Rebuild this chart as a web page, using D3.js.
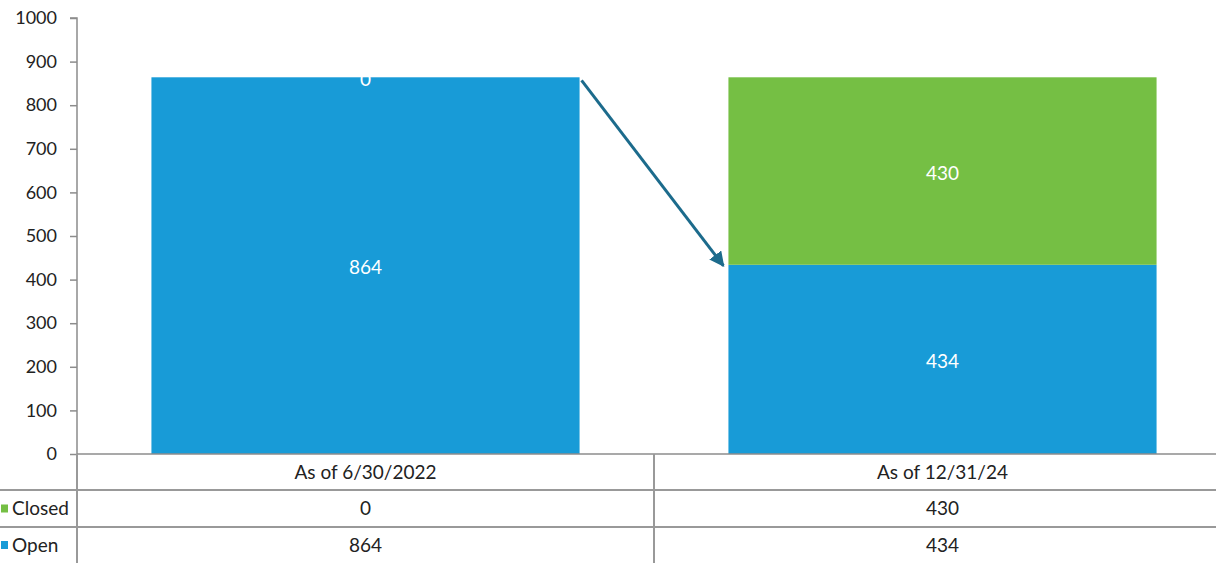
<!DOCTYPE html>
<html><head><meta charset="utf-8">
<script src="https://cdn.jsdelivr.net/npm/d3@7"></script>
<style>body{margin:0;background:#fff}svg{display:block}text{font-family:Lato,"Open Sans",sans-serif;fill:#222}</style>
</head><body><svg id="c" width="1216" height="563"></svg>
<script>
const categories = ["As of 6/30/2022", "As of 12/31/24"];
const seriesNames = ["Open", "Closed"];
const openValues = [864, 434];
const closedValues = [0, 430];
const yTicks = [0,100,200,300,400,500,600,700,800,900,1000];
const colors = {Open:"#189BD7", Closed:"#75BF44"};

const svg = d3.select("#c");
const x0 = 77, y0 = 454;
const x = d3.scaleBand().domain(categories).range([x0, x0+2*577]).paddingInner(0).paddingOuter(0);
const y = d3.scaleLinear().domain([0,1000]).range([y0, 18]);
const barW = x.bandwidth()*0.742;

const rows = categories.map((c,i)=>({cat:c, Open:openValues[i], Closed:closedValues[i]}));
const stacked = d3.stack().keys(seriesNames)(rows);

const g = svg.append("g");
stacked.forEach(s=>{
  g.selectAll(null).data(s).enter().append("rect")
    .attr("x", d=>x(d.data.cat)+(x.bandwidth()-barW)/2)
    .attr("width", barW)
    .attr("y", d=>y(d[1]))
    .attr("height", d=>y(d[0])-y(d[1]))
    .attr("fill", colors[s.key]);
});
stacked.forEach(s=>{
  g.selectAll(null).data(s).enter().append("text")
    .attr("x", d=>x(d.data.cat)+x.bandwidth()/2)
    .attr("y", d=>(y(d[0])+y(d[1]))/2+2)
    .attr("dy","0.35em").attr("text-anchor","middle")
    .style("fill","#fff").style("font-size","19px")
    .text(d=>d[1]-d[0]);
});

// axis
const ax = svg.append("g").attr("transform",`translate(${x0},0)`)
  .call(d3.axisLeft(y).tickValues(yTicks).tickSize(7).tickPadding(13).tickFormat(d3.format("d")));
ax.select(".domain").attr("stroke","#8c8c8c").attr("stroke-width",1.5).attr("d",`M-7,${y(1000)}H0V${y0}`);
ax.selectAll(".tick line").attr("stroke","#8c8c8c").attr("stroke-width",1.5);
ax.selectAll(".tick text").style("font-size","18px").style("fill","#222").style("font-family","Lato,'Open Sans',sans-serif");

// arrow
const defs = svg.append("defs");
defs.append("marker").attr("id","ah").attr("viewBox","0 0 10 10").attr("refX",9).attr("refY",5)
  .attr("markerWidth",5).attr("markerHeight",5).attr("orient","auto")
  .append("path").attr("d","M0,0L10,5L0,10z").attr("fill","#1C6B8C");
const b1r = x(categories[0])+(x.bandwidth()+barW)/2;
const b2l = x(categories[1])+(x.bandwidth()-barW)/2;
svg.append("line").attr("x1",b1r+2).attr("y1",y(openValues[0]+closedValues[0])+3)
  .attr("x2",b2l-5).attr("y2",y(openValues[1])+1)
  .attr("stroke","#1C6B8C").attr("stroke-width",3).attr("marker-end","url(#ah)");

// data table
const tc = "#999";
const rowY = [y0, 490, 527, 563];
const t = svg.append("g");
[y0].forEach(v=>t.append("line").attr("x1",x0).attr("x2",1216).attr("y1",v).attr("y2",v).attr("stroke","#8c8c8c").attr("stroke-width",1.5));
[rowY[1],rowY[2]].forEach(v=>t.append("line").attr("x1",0).attr("x2",1216).attr("y1",v).attr("y2",v).attr("stroke",tc).attr("stroke-width",2));
t.append("line").attr("x1",x0).attr("x2",x0).attr("y1",y0).attr("y2",563).attr("stroke",tc).attr("stroke-width",2);
t.append("line").attr("x1",x(categories[1])).attr("x2",x(categories[1])).attr("y1",y0).attr("y2",563).attr("stroke",tc).attr("stroke-width",2);
t.selectAll(null).data(categories).enter().append("text")
  .attr("x",d=>x(d)+x.bandwidth()/2).attr("y",(rowY[0]+rowY[1])/2).attr("dy","0.35em")
  .attr("text-anchor","middle").style("font-size","19px").text(d=>d);
const tableRows = [["Closed", closedValues],["Open", openValues]];
tableRows.forEach((r,i)=>{
  const cy = (rowY[i+1]+rowY[i+2])/2;
  t.append("rect").attr("x",1).attr("y",cy-4).attr("width",7).attr("height",8).attr("fill",colors[r[0]]);
  t.append("text").attr("x",12).attr("y",cy).attr("dy","0.35em").style("font-size","19px").text(r[0]);
  t.selectAll(null).data(r[1]).enter().append("text")
    .attr("x",(d,j)=>x(categories[j])+x.bandwidth()/2).attr("y",cy).attr("dy","0.35em")
    .attr("text-anchor","middle").style("font-size","19px").text(d=>d);
});
</script></body></html>
